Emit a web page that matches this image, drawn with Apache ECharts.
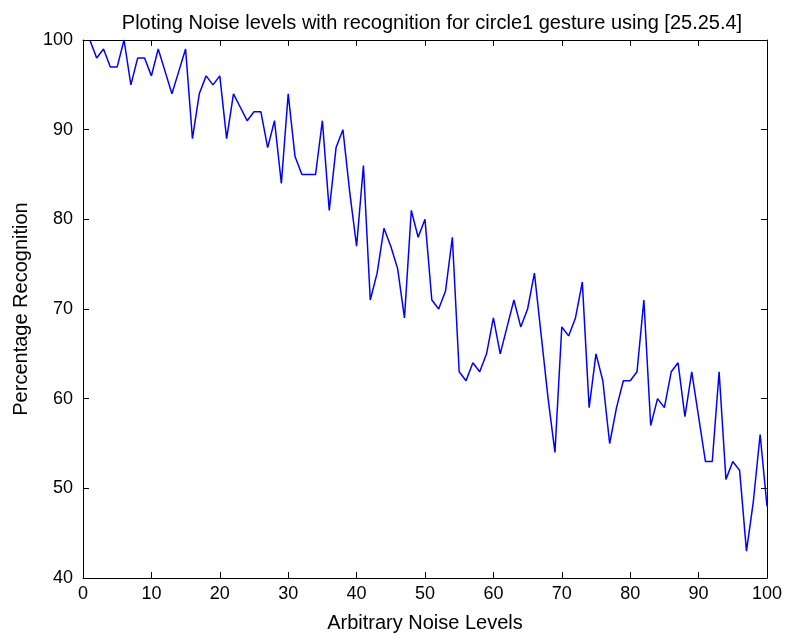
<!DOCTYPE html>
<html>
<head>
<meta charset="utf-8">
<script src="https://cdn.jsdelivr.net/npm/echarts@6/dist/echarts.min.js"></script>
<style>html,body{margin:0;padding:0;background:#fff}#c{width:785px;height:638px}</style>
</head>
<body>
<div id="c"></div>
<script>
const noiseLevels = [];
for (let i = 1; i <= 100; i++) noiseLevels.push(i);
const recognition = [
  100, 98, 99, 97, 97, 100, 95, 98, 98, 96,
  99, 96.5, 94, 96.5, 99, 89, 94, 96, 95, 96,
  89, 94, 92.5, 91, 92, 92, 88, 91, 84, 94,
  87, 85, 85, 85, 91, 81, 88, 90, 83, 77,
  86, 71, 74, 79, 77, 74.5, 69, 81, 78, 80,
  71, 70, 72, 78, 63, 62, 64, 63, 65, 69,
  65, 68, 71, 68, 70, 74, 67, 60, 54, 68,
  67, 69, 73, 59, 65, 62, 55, 59, 62, 62,
  63, 71, 57, 60, 59, 63, 64, 58, 63, 58,
  53, 53, 63, 51, 53, 52, 43, 48.5, 56, 48
];
const titleText = 'Ploting Noise levels with recognition for circle1 gesture using [25.25.4]';
const xName = 'Arbitrary Noise Levels';
const yName = 'Percentage Recognition';

const font = "'Liberation Sans', Arial, sans-serif";
const chart = echarts.init(document.getElementById('c'), null, {renderer: 'canvas'});
const axisCommon = {
  axisLine: {show: true, onZero: false, lineStyle: {color: '#000', width: 1}},
  axisTick: {show: true, inside: true, length: 6, lineStyle: {color: '#000', width: 1}},
  splitLine: {show: false}
};
chart.setOption({
  animation: false,
  backgroundColor: '#fff',
  title: {
    text: titleText, left: 427, top: 8, textAlign: 'center',
    textStyle: {fontFamily: font, fontSize: 20, fontWeight: 'normal', color: '#000'}
  },
  grid: {left: 83, right: 18, top: 40, bottom: 60, show: false},
  xAxis: [
    Object.assign({
      type: 'value', min: 0, max: 100, interval: 10, position: 'bottom',
      name: xName, nameLocation: 'middle', nameGap: 35,
      nameTextStyle: {fontFamily: font, fontSize: 20, color: '#000'},
      axisLabel: {fontFamily: font, fontSize: 18, color: '#000', margin: 7}
    }, axisCommon),
    Object.assign({
      type: 'value', min: 0, max: 100, interval: 10, position: 'top',
      axisLabel: {show: false}
    }, axisCommon)
  ],
  yAxis: [
    Object.assign({
      type: 'value', min: 40, max: 100, interval: 10, position: 'left',
      name: yName, nameLocation: 'middle', nameGap: 52, nameRotate: 90,
      nameTextStyle: {fontFamily: font, fontSize: 20, color: '#000'},
      axisLabel: {fontFamily: font, fontSize: 18, color: '#000', margin: 10}
    }, axisCommon),
    Object.assign({
      type: 'value', min: 40, max: 100, interval: 10, position: 'right',
      axisLabel: {show: false}
    }, axisCommon)
  ],
  series: [{
    type: 'line',
    data: noiseLevels.map((x, i) => [x, recognition[i]]),
    showSymbol: false,
    lineStyle: {color: '#0000ff', width: 1.5},
    clip: true
  }]
});
</script>
</body>
</html>
